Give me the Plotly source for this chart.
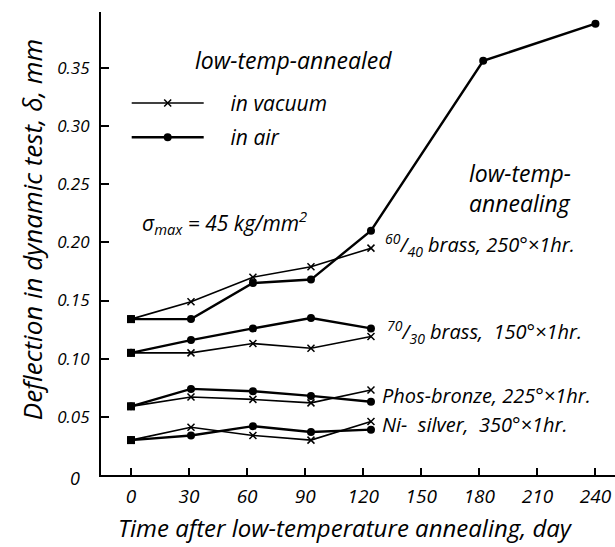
import plotly.graph_objects as go

# ---- data ----
days = [0, 31, 63, 93, 124]
days_long = [0, 31, 63, 93, 124, 182, 240]

brass6040_air = [0.134, 0.134, 0.165, 0.168, 0.210, 0.356, 0.388]
brass6040_vac = [0.134, 0.149, 0.170, 0.179, 0.195]
brass7030_air = [0.105, 0.116, 0.126, 0.135, 0.126]
brass7030_vac = [0.105, 0.105, 0.113, 0.109, 0.119]
phos_air = [0.059, 0.074, 0.072, 0.068, 0.063]
phos_vac = [0.059, 0.067, 0.065, 0.062, 0.073]
ni_air = [0.030, 0.034, 0.042, 0.037, 0.039]
ni_vac = [0.030, 0.041, 0.034, 0.030, 0.046]

x_ticks = [0, 30, 60, 90, 120, 150, 180, 210, 240]
y_ticks = [0.05, 0.10, 0.15, 0.20, 0.25, 0.30, 0.35]
y_tick_text = ["0.05", "0.10", "0.15", "0.20", "0.25", "0.30", "0.35"]

NB = "\u00a0"
series_labels = [
    ("<sup>60</sup>/<sub>40</sub> brass, 250°×1hr.", 130, 0.1976),
    ("<sup>70</sup>/<sub>30</sub> brass," + NB * 2 + "150°×1hr.", 131, 0.123),
    ("Phos-bronze, 225°×1hr.", 128.5, 0.0687),
    ("Ni-" + NB * 2 + "silver," + NB * 2 + "350°×1hr.", 128.5, 0.043),
]

FONT = "Open Sans"
BLACK = "black"

fig = go.Figure()

vac_series = [brass6040_vac, brass7030_vac, phos_vac, ni_vac]
air_series = [(days_long, brass6040_air), (days, brass7030_air), (days, phos_air), (days, ni_air)]

for i, ys in enumerate(vac_series):
    fig.add_trace(go.Scatter(
        x=days, y=ys, mode="lines+markers",
        line=dict(color=BLACK, width=1.6),
        marker=dict(symbol="x-thin", size=7, line=dict(color=BLACK, width=1.5)),
        name=NB * 4 + "in vacuum", legendgroup="vac", showlegend=(i == 0),
    ))

for i, (xs, ys) in enumerate(air_series):
    fig.add_trace(go.Scatter(
        x=xs, y=ys, mode="lines+markers",
        line=dict(color=BLACK, width=2.4),
        marker=dict(symbol="circle", size=8, color=BLACK),
        name=NB * 4 + "in air", legendgroup="air", showlegend=(i == 0),
    ))

# start points drawn as squares (overlap of both markers)
fig.add_trace(go.Scatter(
    x=[days[0]] * 4, y=[s[0] for s in vac_series], mode="markers",
    marker=dict(symbol="square", size=8, color=BLACK), showlegend=False,
))

ann_font = dict(family=FONT, size=20, color=BLACK, style="italic")
for txt, xd, yd in series_labels:
    fig.add_annotation(x=xd, y=yd, text=txt, showarrow=False, xanchor="left",
                       yanchor="middle", font=ann_font)

fig.add_annotation(x=32, y=0.3566, text="low-temp-annealed", showarrow=False,
                   xanchor="left", yanchor="middle",
                   font=dict(family=FONT, size=23, color=BLACK, style="italic"))
fig.add_annotation(x=173.5, y=0.2466, text="low-temp-<br>annealing", showarrow=False,
                   xanchor="left", yanchor="middle", align="left",
                   font=dict(family=FONT, size=23, color=BLACK, style="italic"))
fig.add_annotation(x=4.5, y=0.2174, text="σ<sub>max</sub> = 45 kg/mm<sup>2</sup>",
                   showarrow=False, xanchor="left", yanchor="middle",
                   font=dict(family=FONT, size=21, color=BLACK, style="italic"))
fig.add_annotation(xref="paper", x=-0.05, y=0, yshift=-3, text="0", showarrow=False,
                   xanchor="center", yanchor="middle",
                   font=dict(family=FONT, size=18, color=BLACK, style="italic"))

# axis titles
fig.add_annotation(xref="paper", yref="paper", x=0.476, y=-0.113,
                   text="Time after low-temperature annealing, day", showarrow=False,
                   xanchor="center", yanchor="middle",
                   font=dict(family=FONT, size=24, color=BLACK, style="italic"))
fig.add_annotation(xref="paper", yref="paper", x=-0.134, y=0.529, textangle=-90,
                   text="Deflection in dynamic test, δ, mm", showarrow=False,
                   xanchor="center", yanchor="middle",
                   font=dict(family=FONT, size=26, color=BLACK, style="italic"))

fig.update_layout(
    width=615, height=547,
    margin=dict(l=101, r=0, t=12, b=72),
    paper_bgcolor="white", plot_bgcolor="white",
    font=dict(family=FONT, color=BLACK),
    legend=dict(x=0.05, y=0.766, xanchor="left", yanchor="middle",
                bgcolor="rgba(0,0,0,0)", traceorder="grouped", tracegroupgap=4,
                font=dict(family=FONT, size=21, color=BLACK, style="italic"),
                itemwidth=72),
    xaxis=dict(
        range=[-15.5, 250.1], tickvals=x_ticks, ticks="inside", ticklen=7,
        tickwidth=1.5, tickcolor=BLACK, showline=True, linecolor=BLACK, linewidth=2,
        showgrid=False, zeroline=False,
        tickfont=dict(family=FONT, size=19, color=BLACK, style="italic"),
        ticklabelstandoff=3,
    ),
    yaxis=dict(
        range=[0, 0.398], tickvals=y_ticks, ticktext=y_tick_text, ticks="inside",
        ticklen=8, tickwidth=1.5, tickcolor=BLACK, showline=True, linecolor=BLACK,
        linewidth=2, showgrid=False, zeroline=False,
        tickfont=dict(family=FONT, size=17, color=BLACK, style="italic"),
        ticklabelstandoff=6,
    ),
)

fig.write_html("out.html")
